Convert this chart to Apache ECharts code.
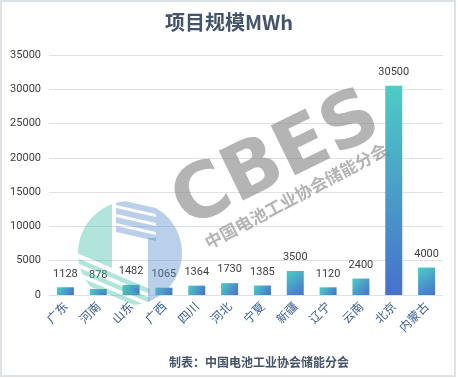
<!DOCTYPE html>
<html>
<head>
<meta charset="utf-8">
<script src="https://cdn.jsdelivr.net/npm/echarts@6/dist/echarts.min.js"></script>
<style>
  html, body { margin: 0; padding: 0; background: #fff; }
  #main { width: 458px; height: 378px; }
</style>
</head>
<body>
<div id="main"></div>
<script>
// 省份 / 项目规模(MWh)
var provinces = ['广东', '河南', '山东', '广西', '四川', '河北', '宁夏', '新疆', '辽宁', '云南', '北京', '内蒙古'];
var capacity = [1128, 878, 1482, 1065, 1364, 1730, 1385, 3500, 1120, 2400, 30500, 4000];
var yTicks = [0, 5000, 10000, 15000, 20000, 25000, 30000, 35000];

// 水印logo: 把多边形裁剪到圆里
function circlePoly(cx, cy, r) {
  var pts = [];
  for (var i = 0; i < 72; i++) {
    var t = i / 72 * Math.PI * 2;
    pts.push([cx + r * Math.cos(t), cy + r * Math.sin(t)]);
  }
  return pts;
}
function clip(subject, clipPoly) {
  var out = subject;
  for (var i = 0; i < clipPoly.length; i++) {
    var a = clipPoly[i], b = clipPoly[(i + 1) % clipPoly.length];
    var inp = out; out = [];
    var inside = function (p) {
      return (b[0] - a[0]) * (p[1] - a[1]) - (b[1] - a[1]) * (p[0] - a[0]) >= 0;
    };
    var inter = function (p, q) {
      var a1 = b[1] - a[1], b1 = a[0] - b[0], c1 = a1 * a[0] + b1 * a[1];
      var a2 = q[1] - p[1], b2 = p[0] - q[0], c2 = a2 * p[0] + b2 * p[1];
      var d = a1 * b2 - a2 * b1;
      return [(b2 * c1 - b1 * c2) / d, (a1 * c2 - a2 * c1) / d];
    };
    for (var j = 0; j < inp.length; j++) {
      var p = inp[j], q = inp[(j + 1) % inp.length];
      if (inside(q)) {
        if (!inside(p)) out.push(inter(p, q));
        out.push(q);
      } else if (inside(p)) {
        out.push(inter(p, q));
      }
    }
  }
  return out;
}

var circ = circlePoly(130, 253, 52);
var teal = 'rgba(70,190,170,0.42)';
var blue = 'rgba(90,140,205,0.42)';
var logo = [];
function piece(poly, color) {
  logo.push({ type: 'polygon', z: 100, silent: true, shape: { points: clip(poly, circ) }, style: { fill: color } });
}
// 左边青色 + 下方斜条
piece([[70, 195], [112, 195], [112, 268], [70, 250]], teal);
for (var k = 0; k < 3; k++) {
  var t = 255 + k * 9;
  piece([[70, t], [150, t + 34], [150, t + 39], [70, t + 5]], teal);
}
// 右边蓝色 + 上方斜条
for (var k2 = 0; k2 < 4; k2++) {
  var t2 = 199 + k2 * 9;
  piece([[116, t2], [156, t2 + 9], [156, t2 + 15], [116, t2 + 6]], blue);
}
piece([[156, 195], [195, 195], [195, 315], [148, 315], [148, 238], [156, 238]], blue);

var myChart = echarts.init(document.getElementById('main'));
myChart.setOption({
  backgroundColor: '#fff',
  animation: false,
  title: {
    text: '项目规模MWh',
    left: 'center',
    top: 7,
    textStyle: {
      fontFamily: 'Noto Sans CJK SC',
      fontSize: 20,
      fontWeight: 'bold',
      color: '#44546a'
    }
  },
  grid: {
    left: 49,
    right: 15,
    top: 55,
    bottom: 83
  },
  xAxis: {
    type: 'category',
    data: provinces,
    axisLine: { lineStyle: { color: '#dde1e8' } },
    axisTick: { show: false },
    axisLabel: {
      rotate: 45,
      interval: 0,
      margin: 9,
      fontSize: 12,
      fontFamily: 'Noto Sans CJK SC',
      color: '#3b5d92'
    }
  },
  yAxis: {
    type: 'value',
    min: yTicks[0],
    max: yTicks[yTicks.length - 1],
    interval: 5000,
    axisLine: { show: false },
    axisTick: { show: false },
    axisLabel: {
      margin: 8,
      fontSize: 11,
      fontFamily: 'Roboto',
      color: '#404040',
      formatter: function (v) { return String(v); }
    },
    splitLine: { lineStyle: { color: '#dde1e8' } }
  },
  series: [
    {
      type: 'bar',
      data: capacity,
      barWidth: 17,
      itemStyle: {
        color: new echarts.graphic.LinearGradient(0, 0, 1, 1, [
          { offset: 0, color: '#4dcdc5' },
          { offset: 1, color: '#4670cc' }
        ])
      },
      label: {
        show: true,
        position: 'top',
        distance: 8,
        fontSize: 11,
        fontFamily: 'Roboto',
        color: '#404040'
      }
    }
  ],
  graphic: [
    {
      type: 'rect',
      silent: true,
      z: 0,
      shape: { x: 1, y: 1, width: 454, height: 375 },
      style: { fill: 'none', stroke: '#dde2e9', lineWidth: 2 }
    },
    {
      type: 'text',
      x: 259,
      y: 362,
      silent: true,
      style: {
        text: '制表：中国电池工业协会储能分会',
        fontFamily: 'Noto Sans CJK SC',
        fontSize: 12,
        fontWeight: 'bold',
        fill: '#44546a',
        textAlign: 'center',
        textVerticalAlign: 'middle'
      }
    },
    {
      type: 'group',
      z: 100,
      children: logo
    },
    {
      type: 'text',
      x: 277,
      y: 162,
      rotation: 26 * Math.PI / 180,
      silent: true,
      z: 100,
      style: {
        text: 'CBES',
        fontFamily: 'DejaVu Sans',
        fontSize: 76,
        fontWeight: 'bold',
        fill: 'rgba(130,130,130,0.6)',
        textAlign: 'center',
        textVerticalAlign: 'middle'
      }
    },
    {
      type: 'text',
      x: 296,
      y: 196,
      rotation: 28 * Math.PI / 180,
      silent: true,
      z: 100,
      style: {
        text: '中国电池工业协会储能分会',
        fontFamily: 'Noto Sans CJK SC',
        fontSize: 17,
        fontWeight: 'bold',
        fill: 'rgba(130,130,130,0.6)',
        textAlign: 'center',
        textVerticalAlign: 'middle'
      }
    }
  ]
});
</script>
</body>
</html>
